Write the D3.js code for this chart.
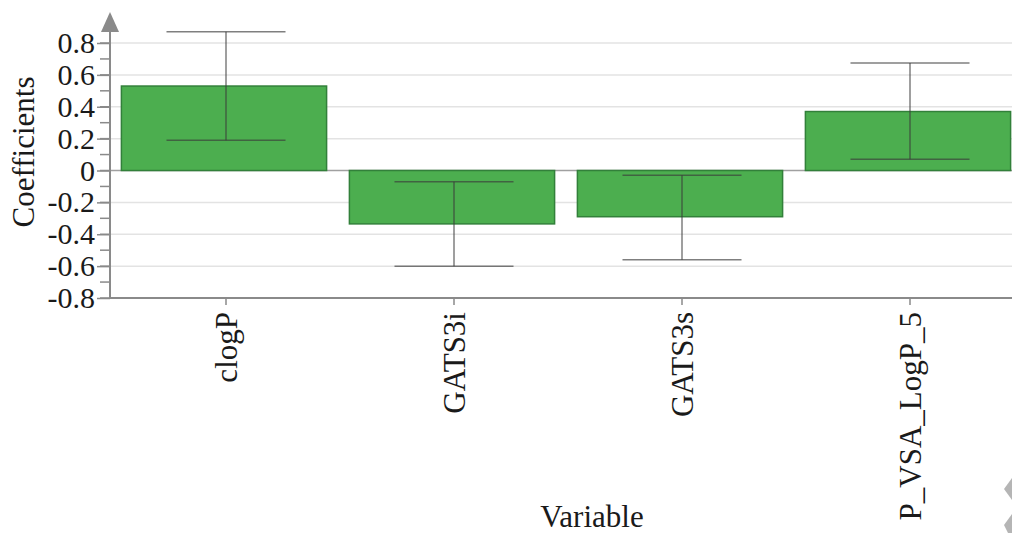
<!DOCTYPE html>
<html>
<head>
<meta charset="utf-8">
<script src="https://cdn.jsdelivr.net/npm/d3@7"></script>
<style>
  html, body { margin: 0; padding: 0; background: #fff; }
  svg { display: block; }
</style>
</head>
<body>
<svg id="chart" width="1012" height="533"></svg>
<script>
// Regression coefficients with their confidence intervals
const categories = ["clogP", "GATS3i", "GATS3s", "P_VSA_LogP_5"];
const coefficients = [0.53, -0.335, -0.29, 0.37];
const lowerBounds = [0.19, -0.60, -0.56, 0.07];
const upperBounds = [0.87, -0.07, -0.03, 0.675];
const yTicks = [-0.8, -0.6, -0.4, -0.2, 0, 0.2, 0.4, 0.6, 0.8];
const yMinorTicks = d3.range(-8, 9).map(d => d / 10);

const FONT = "'Liberation Serif', 'Times New Roman', serif";
const svg = d3.select("#chart");
const W = 1012;
const axisX = 110, bottomY = 298;

const x = d3.scaleBand()
  .domain(categories)
  .range([axisX, 1022])
  .paddingInner(0.1)
  .paddingOuter(0.05);

const y = d3.scaleLinear()
  .domain([-0.8, 0.8])
  .range([bottomY, 43]);

// horizontal grid lines
svg.append("g")
  .selectAll("line")
  .data(yTicks.filter(d => d !== 0 && d !== -0.8))
  .join("line")
  .attr("x1", axisX).attr("x2", W)
  .attr("y1", d => y(d)).attr("y2", d => y(d))
  .attr("stroke", "#e3e3e3").attr("stroke-width", 1.5);

// zero reference line
svg.append("line")
  .attr("x1", axisX).attr("x2", W)
  .attr("y1", y(0)).attr("y2", y(0))
  .attr("stroke", "#a0a0a0").attr("stroke-width", 1.5);

// bars
svg.append("g")
  .selectAll("rect")
  .data(categories)
  .join("rect")
  .attr("x", d => x(d))
  .attr("width", x.bandwidth())
  .attr("y", (d, i) => y(Math.max(0, coefficients[i])))
  .attr("height", (d, i) => Math.abs(y(coefficients[i]) - y(0)))
  .attr("fill", "#4cae4f")
  .attr("stroke", "#32803a")
  .attr("stroke-width", 1.5);

// error bars
const capHalf = x.bandwidth() * 0.29;
const err = svg.append("g")
  .attr("stroke", "#3a3a3a")
  .attr("stroke-opacity", 0.65)
  .attr("stroke-width", 1.5);
categories.forEach((c, i) => {
  const cx = x(c) + x.bandwidth() / 2 + 2;
  err.append("line")
    .attr("x1", cx).attr("x2", cx)
    .attr("y1", y(upperBounds[i])).attr("y2", y(lowerBounds[i]));
  [upperBounds[i], lowerBounds[i]].forEach(v => {
    err.append("line")
      .attr("x1", cx - capHalf).attr("x2", cx + capHalf)
      .attr("y1", y(v)).attr("y2", y(v));
  });
});

// y axis
const yAxis = svg.append("g")
  .attr("transform", `translate(${axisX},0)`)
  .call(d3.axisLeft(y).tickValues(yTicks).tickSize(13).tickPadding(2)
    .tickFormat(d => d === 0 ? "0" : d3.format(".1f")(d).replace("\u2212", "-")));
yAxis.select(".domain").remove();
yAxis.selectAll(".tick line").attr("stroke", "#8a8a8a").attr("stroke-width", 1.5);
yAxis.selectAll(".tick text")
  .attr("font-family", FONT)
  .attr("font-size", 30)
  .attr("fill", "#1a1a1a");

svg.append("g")
  .selectAll("line")
  .data(yMinorTicks)
  .join("line")
  .attr("x1", axisX - 10).attr("x2", axisX)
  .attr("y1", d => y(d)).attr("y2", d => y(d))
  .attr("stroke", "#8a8a8a").attr("stroke-width", 1.5);

svg.append("line")
  .attr("x1", axisX).attr("x2", axisX)
  .attr("y1", bottomY).attr("y2", 28)
  .attr("stroke", "#8a8a8a").attr("stroke-width", 2);
svg.append("path")
  .attr("d", `M${axisX},12 L${axisX + 9},32 L${axisX - 9},32 Z`)
  .attr("fill", "#8a8a8a");

// x axis
const xAxis = svg.append("g")
  .attr("transform", `translate(2,${bottomY})`)
  .call(d3.axisBottom(x).tickSize(7).tickSizeOuter(0));
xAxis.select(".domain").remove();
xAxis.selectAll(".tick line").attr("stroke", "#8a8a8a").attr("stroke-width", 1.5);
xAxis.selectAll(".tick text")
  .attr("font-family", FONT)
  .attr("font-size", 31)
  .attr("fill", "#1a1a1a")
  .attr("text-anchor", "end")
  .attr("transform", "rotate(-90)")
  .attr("x", -14)
  .attr("y", 0)
  .attr("dy", "0.35em");

svg.append("line")
  .attr("x1", axisX).attr("x2", W)
  .attr("y1", bottomY).attr("y2", bottomY)
  .attr("stroke", "#8a8a8a").attr("stroke-width", 2);

// axis titles
svg.append("text")
  .attr("transform", "translate(34,152) rotate(-90)")
  .attr("text-anchor", "middle")
  .attr("font-family", FONT)
  .attr("font-size", 31)
  .attr("fill", "#1a1a1a")
  .text("Coefficients");

svg.append("text")
  .attr("x", 592).attr("y", 527)
  .attr("text-anchor", "middle")
  .attr("font-family", FONT)
  .attr("font-size", 31)
  .attr("fill", "#1a1a1a")
  .text("Variable");

// resize grip in the lower right corner
svg.append("path")
  .attr("d", "M1012,478 L1004,489 L1012,500 Z")
  .attr("fill", "#b5b5b5");
svg.append("path")
  .attr("d", "M1012,514 L1004,525 L1008,533 L1012,533 Z")
  .attr("fill", "#b5b5b5");
</script>
</body>
</html>
